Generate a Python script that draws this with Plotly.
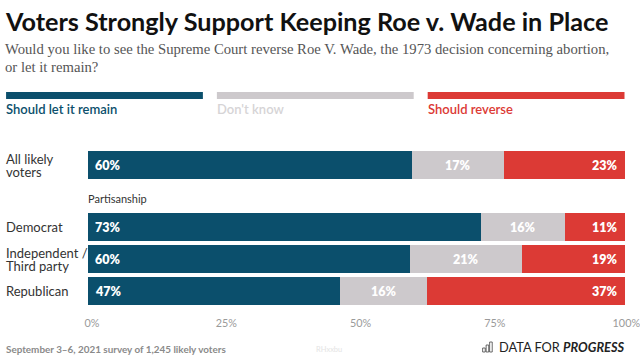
import plotly.graph_objects as go

W, H = 640, 359
TITLE = "Voters Strongly Support Keeping Roe v. Wade in Place"
SUBTITLE = ["Would you like to see the Supreme Court reverse Roe V. Wade, the 1973 decision concerning abortion,",
            "or let it remain?"]
SERIES = ["Should let it remain", "Don't know", "Should reverse"]
COLORS = ["#0B4F6C", "#CDC9CC", "#DC3A35"]
LEGEND_TEXT = ["#0B4F6C", "#D6D4D6", "#DC3A35"]

OVERALL = ["All likely<br>voters"]
OVERALL_REMAIN = [60.4]
OVERALL_DK = [17.0]
OVERALL_REVERSE = [22.6]

PARTY = ["Democrat", "Independent /<br>Third party", "Republican"]
PARTY_REMAIN = [73.2, 60.0, 46.9]
PARTY_DK = [15.7, 20.9, 16.3]
PARTY_REVERSE = [11.1, 19.1, 36.8]

TICKS = [0, 25, 50, 75, 100]
TICK_LABEL_AT = [0, 25, 50, 75, 99.5]
GROUP_LABEL = "Partisanship"
FOOTER = "September 3–6, 2021 survey of 1,245 likely voters"
CODE = "RHxxbu"

ML, MR = 88, 14.5
PW = W - ML - MR
SANS = "Lato, sans-serif"
LINE = 13


def px(x):
    return (x - ML) / PW


def py(y):
    return 1 - y / H


fig = go.Figure()
annotations = []


def add_group(cats, rem, dk, rev, yaxis, yref):
    for name, color, vals in zip(SERIES, COLORS, (rem, dk, rev)):
        fig.add_bar(y=cats, x=vals, name=name, orientation="h", yaxis=yaxis,
                    marker=dict(color=color, line_width=0), showlegend=False,
                    hoverinfo="skip")
    for i, c in enumerate(cats):
        style = dict(yref=yref, y=c, xref="x", showarrow=False, borderpad=0, borderwidth=0,
                     font=dict(family=SANS, size=12.5, color="white", weight=800))
        annotations.append(dict(x=0, text=f"{rem[i]:.0f}%", xanchor="left", xshift=7, **style))
        annotations.append(dict(x=rem[i] + dk[i] / 2, text=f"{dk[i]:.0f}%", xanchor="center", **style))
        annotations.append(dict(x=100, text=f"{rev[i]:.0f}%", xanchor="right", xshift=-7, **style))
        lines = c.split("<br>")
        for j, line in enumerate(lines):
            annotations.append(dict(x=px(6), xref="paper", y=c, yref=yref, text=line, xanchor="left",
                                    showarrow=False, borderpad=0, borderwidth=0,
                                    yshift=((len(lines) - 1) / 2 - j) * LINE,
                                    font=dict(family=SANS, size=13, color="#333333")))


add_group(OVERALL, OVERALL_REMAIN, OVERALL_DK, OVERALL_REVERSE, "y", "y")
add_group(PARTY, PARTY_REMAIN, PARTY_DK, PARTY_REVERSE, "y2", "y2")


def text(x, y, t, size, color, family=SANS, anchor="left", weight=None):
    annotations.append(dict(xref="paper", yref="paper", x=px(x), y=py(y), text=t, xanchor=anchor,
                            yanchor="middle", showarrow=False, align="left", borderpad=0, borderwidth=0,
                            font=dict(family=family, size=size, color=color, weight=weight)))


text(5, 21, TITLE, 25.2, "#111111", weight=700)
text(5, 49, SUBTITLE[0], 14.7, "#555555", family="'Liberation Serif', serif")
text(5, 67, SUBTITLE[1], 14.7, "#555555", family="'Liberation Serif', serif")
text(88, 198, GROUP_LABEL, 11, "#333333")
text(6, 349, FOOTER, 9.9, "#8A8A8A", weight=700)
text(316, 349, CODE, 7.5, "#E4E4E4")
text(499, 347, "DATA FOR <b><i>PROGRESS</i></b>", 12.8, "#222222")

shapes = []
legend_x = [(6, 203), (217, 414), (428, 625)]
for (x0, x1), color, tc, name in zip(legend_x, COLORS, LEGEND_TEXT, SERIES):
    shapes.append(dict(type="rect", xref="paper", yref="paper", x0=px(x0), x1=px(x1),
                       y0=py(99), y1=py(92), fillcolor=color, line_width=0))
    text(x0, 109, name, 13, tc, weight=600)
for x0, y0 in [(483, 348), (486.5, 345), (490, 342)]:
    shapes.append(dict(type="rect", xref="paper", yref="paper", x0=px(x0), x1=px(x0 + 2.6),
                       y0=py(352), y1=py(y0), line=dict(color="#444444", width=0.8),
                       fillcolor="rgba(0,0,0,0)"))

fig.update_layout(
    width=W, height=H, autosize=False,
    margin=dict(l=ML, r=MR, t=0, b=0),
    paper_bgcolor="white", plot_bgcolor="white",
    barmode="stack", bargap=0.12,
    xaxis=dict(range=[0, 100], tickvals=TICK_LABEL_AT, ticktext=[f"{t}%" for t in TICKS],
               anchor="y2", showgrid=False, zeroline=False, showline=False,
               ticks="outside", ticklen=6, tickcolor="rgba(0,0,0,0)", ticklabelshift=4,
               ticklabeloverflow="allow",
               tickfont=dict(family=SANS, size=10.8, color="#9A9A9A"), automargin=False),
    yaxis=dict(domain=[py(181.4), py(149.2)], range=[-0.5, 0.5], showticklabels=False, ticks="",
               showgrid=False, zeroline=False, automargin=False),
    yaxis2=dict(domain=[py(307.4), py(211)], range=[2.5, -0.5], showticklabels=False, ticks="",
                showgrid=False, zeroline=False, automargin=False),
    annotations=annotations, shapes=shapes,
)
fig.write_html("out.html", config={"displayModeBar": False},
               post_script="document.body.style.margin='0';")
